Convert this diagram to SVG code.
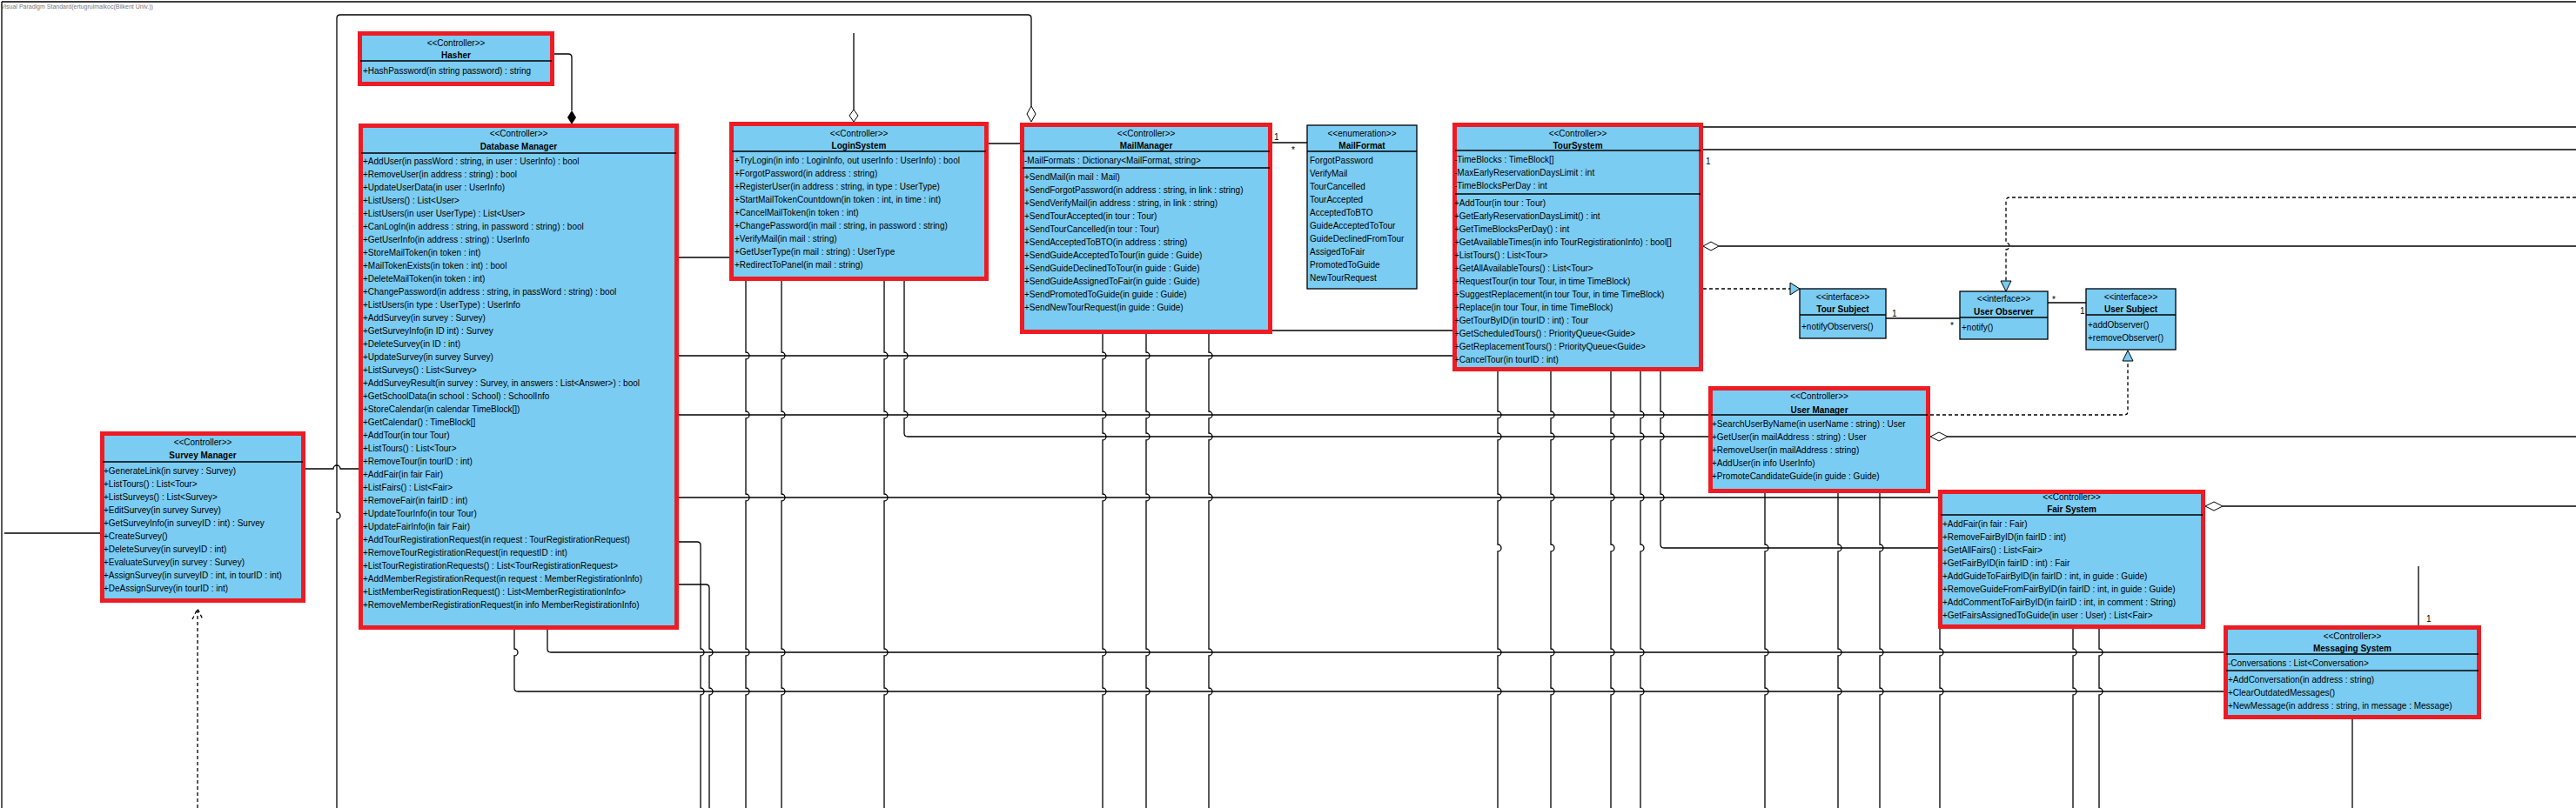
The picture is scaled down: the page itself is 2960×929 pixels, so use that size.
<svg xmlns="http://www.w3.org/2000/svg" width="2960" height="929" viewBox="0 0 2960 929">
<style>
.bx{fill:#7ACCF2;stroke:#ED1C24;stroke-width:5}
.pl{fill:#7ACCF2;stroke:#000;stroke-width:1.3}
.sp{stroke:#000;stroke-width:1.3}
.t{font-family:"Liberation Sans",Arial,sans-serif;font-size:10px;fill:#000}
.c{text-anchor:middle}
.b{font-weight:bold}
.ln{fill:none;stroke:#000;stroke-width:1.3}
.ds{stroke-dasharray:4 3}
.wm{font-family:"Liberation Sans",Arial,sans-serif;font-size:7px;fill:#777}
</style>
<rect x="0" y="0" width="2960" height="929" fill="#fff"/>
<text class="wm" x="1" y="9.5">Visual Paradigm Standard(ertugrulmalkoc(Bilkent Univ.))</text>
<g id="connectors">
<path class="ln" d="M2,2 H2960 M2,2 V929"/>
<path class="ln" d="M637,62 H653 Q657,62 657,66 V127"/>
<path d="M657,127 L662,135 L657,143 L652,135 Z" fill="#000"/>
<path class="ln" d="M780,296 H838"/>
<path class="ln" d="M1136,165 H1172"/>
<path class="ln" d="M1462,164 H1502"/>
<text class="t" x="1464" y="161">1</text>
<text class="t" x="1484" y="176">*</text>
<path class="ln ds" d="M1957,332 H2057"/>
<path d="M2057,325 L2068,332 L2057,339 Z" fill="#7ACCF2" stroke="#000"/>
<path class="ln" d="M2167,366 H2252"/>
<text class="t" x="2174" y="364">1</text>
<text class="t" x="2241" y="378">*</text>
<path class="ln" d="M2353,348 H2397"/>
<text class="t" x="2358" y="348">*</text>
<text class="t" x="2390" y="361">1</text>
<path class="ln ds" d="M2960,227 H2309 Q2305,227 2305,231 V279 a4,4 0 0 1 0,8 V323"/>
<path d="M2299,323 L2305,335 L2311,323 Z" fill="#7ACCF2" stroke="#000"/>
<path class="ln ds" d="M2218,477 H2441 Q2445,477 2445,473 V415"/>
<path d="M2439,415 L2445,403 L2451,415 Z" fill="#7ACCF2" stroke="#000"/>
<path class="ln" d="M1975,283 H2960"/>
<path d="M1957,283 L1966,278 L1975,283 L1966,288 Z" fill="#fff" stroke="#000"/>
<path class="ln" d="M2238,502 H2960"/>
<path d="M2218,502 L2228,497 L2238,502 L2228,507 Z" fill="#fff" stroke="#000"/>
<path class="ln" d="M2554,582 H2960"/>
<path d="M2534,582 L2544,577 L2554,582 L2544,587 Z" fill="#fff" stroke="#000"/>
<path class="ln" d="M1957,146 H2960 M1957,172 H2960"/>
<text class="t" x="1960" y="189">1</text>
<path class="ln" d="M1185,122 V21 Q1185,17 1181,17 H391 Q387,17 387,21 V589 a4,4 0 0 1 0,8 V929"/>
<path d="M1185,122 L1190,131 L1185,140 L1180,131 Z" fill="#fff" stroke="#000"/>
<path class="ln" d="M981,126 V38"/>
<path d="M981,126 L986,133 L981,140 L976,133 Z" fill="#fff" stroke="#000"/>
<path class="ln" d="M351,539 H383 a4,4 0 0 1 8,0 H412"/>
<path class="ln" d="M5,613 H115"/>
<path class="ln ds" d="M227,929 V700 M221,712 L227,700 L233,712"/>
<path class="ln" d="M2779,719 V651"/>
<text class="t" x="2788" y="715">1</text>
<path class="ln" d="M2703,827 V929"/>
<path class="ln" d="M780,409 H1669 M1462,380 H1669 M780,477 H1963 M780,572 H2227"/>
<path class="ln" d="M857,323 V405 a4,4 0 0 1 0,8 V473 a4,4 0 0 1 0,8 V568 a4,4 0 0 1 0,8 V746 a4,4 0 0 1 0,8 V791 a4,4 0 0 1 0,8 V929"/>
<path class="ln" d="M898,323 V405 a4,4 0 0 1 0,8 V473 a4,4 0 0 1 0,8 V568 a4,4 0 0 1 0,8 V746 a4,4 0 0 1 0,8 V791 a4,4 0 0 1 0,8 V929"/>
<path class="ln" d="M1016,323 V405 a4,4 0 0 1 0,8 V473 a4,4 0 0 1 0,8 V568 a4,4 0 0 1 0,8 V746 a4,4 0 0 1 0,8 V791 a4,4 0 0 1 0,8 V929"/>
<path class="ln" d="M1039,323 V405 a4,4 0 0 1 0,8 V473 a4,4 0 0 1 0,8 V498 Q1039,502 1043,502 H1963"/>
<path class="ln" d="M1267,384 V405 a4,4 0 0 1 0,8 V473 a4,4 0 0 1 0,8 V498 a4,4 0 0 1 0,8 V568 a4,4 0 0 1 0,8 V746 a4,4 0 0 1 0,8 V791 a4,4 0 0 1 0,8 V929"/>
<path class="ln" d="M1317,384 V405 a4,4 0 0 1 0,8 V473 a4,4 0 0 1 0,8 V498 a4,4 0 0 1 0,8 V568 a4,4 0 0 1 0,8 V746 a4,4 0 0 1 0,8 V791 a4,4 0 0 1 0,8 V929"/>
<path class="ln" d="M1389,384 V405 a4,4 0 0 1 0,8 V473 a4,4 0 0 1 0,8 V498 a4,4 0 0 1 0,8 V568 a4,4 0 0 1 0,8 V746 a4,4 0 0 1 0,8 V791 a4,4 0 0 1 0,8 V929"/>
<path class="ln" d="M780,623 H801 Q805,623 805,627 V746 a4,4 0 0 1 0,8 V791 a4,4 0 0 1 0,8 V929"/>
<path class="ln" d="M780,672 H811 Q815,672 815,676 V746 a4,4 0 0 1 0,8 V791 a4,4 0 0 1 0,8 V929"/>
<path class="ln" d="M629,724 V746 Q629,750 633,750 H2555"/>
<path class="ln" d="M591,724 V746 a4,4 0 0 1 0,8 V791 Q591,795 595,795 H2555"/>
<path class="ln" d="M1721,427 V473 a4,4 0 0 1 0,8 V498 a4,4 0 0 1 0,8 V568 a4,4 0 0 1 0,8 V626 a4,4 0 0 1 0,8 V746 a4,4 0 0 1 0,8 V791 a4,4 0 0 1 0,8 V929"/>
<path class="ln" d="M1782,427 V473 a4,4 0 0 1 0,8 V498 a4,4 0 0 1 0,8 V568 a4,4 0 0 1 0,8 V626 a4,4 0 0 1 0,8 V746 a4,4 0 0 1 0,8 V791 a4,4 0 0 1 0,8 V929"/>
<path class="ln" d="M1851,427 V473 a4,4 0 0 1 0,8 V498 a4,4 0 0 1 0,8 V568 a4,4 0 0 1 0,8 V626 a4,4 0 0 1 0,8 V746 a4,4 0 0 1 0,8 V791 a4,4 0 0 1 0,8 V929"/>
<path class="ln" d="M1885,427 V473 a4,4 0 0 1 0,8 V498 a4,4 0 0 1 0,8 V568 a4,4 0 0 1 0,8 V626 a4,4 0 0 1 0,8 V746 a4,4 0 0 1 0,8 V791 a4,4 0 0 1 0,8 V929"/>
<path class="ln" d="M1908,427 V473 a4,4 0 0 1 0,8 V498 a4,4 0 0 1 0,8 V568 a4,4 0 0 1 0,8 V626 Q1908,630 1912,630 H2227"/>
<path class="ln" d="M2028,567 V626 a4,4 0 0 1 0,8 V746 a4,4 0 0 1 0,8 V791 a4,4 0 0 1 0,8 V929"/>
<path class="ln" d="M2112,567 V626 a4,4 0 0 1 0,8 V746 a4,4 0 0 1 0,8 V791 a4,4 0 0 1 0,8 V929"/>
<path class="ln" d="M2160,567 V626 a4,4 0 0 1 0,8 V746 a4,4 0 0 1 0,8 V791 a4,4 0 0 1 0,8 V929"/>
<path class="ln" d="M2229,723 V746 a4,4 0 0 1 0,8 V791 a4,4 0 0 1 0,8 V929"/>
<path class="ln" d="M2382,723 V746 a4,4 0 0 1 0,8 V791 a4,4 0 0 1 0,8 V929"/>
<path class="ln" d="M2412,723 V746 a4,4 0 0 1 0,8 V791 a4,4 0 0 1 0,8 V929"/>
</g>
<g id="hasher">
<rect class="bx" x="413.5" y="38.5" width="221" height="58"/>
<text class="t c" x="524" y="52.5">&lt;&lt;Controller&gt;&gt;</text>
<text class="t c b" x="524" y="66.5">Hasher</text>
<line class="sp" x1="414" y1="70" x2="634" y2="70"/>
<text class="t" x="417" y="84.5">+HashPassword(in string password) : string</text>
</g>
<g id="database-manager">
<rect class="bx" x="414.5" y="144.5" width="363" height="577"/>
<text class="t c" x="596" y="156.5">&lt;&lt;Controller&gt;&gt;</text>
<text class="t c b" x="596" y="171.5">Database Manager</text>
<line class="sp" x1="415" y1="176" x2="777" y2="176"/>
<text class="t" x="417" y="188.5">+AddUser(in passWord : string, in user : UserInfo) : bool</text>
<text class="t" x="417" y="203.5">+RemoveUser(in address : string) : bool</text>
<text class="t" x="417" y="218.5">+UpdateUserData(in user : UserInfo)</text>
<text class="t" x="417" y="233.5">+ListUsers() : List&lt;User&gt;</text>
<text class="t" x="417" y="248.5">+ListUsers(in user UserType) : List&lt;User&gt;</text>
<text class="t" x="417" y="263.5">+CanLogIn(in address : string, in password : string) : bool</text>
<text class="t" x="417" y="278.5">+GetUserInfo(in address : string) : UserInfo</text>
<text class="t" x="417" y="293.5">+StoreMailToken(in token : int)</text>
<text class="t" x="417" y="308.5">+MailTokenExists(in token : int) : bool</text>
<text class="t" x="417" y="323.5">+DeleteMailToken(in token : int)</text>
<text class="t" x="417" y="338.5">+ChangePassword(in address : string, in passWord : string) : bool</text>
<text class="t" x="417" y="353.5">+ListUsers(in type : UserType) : UserInfo</text>
<text class="t" x="417" y="368.5">+AddSurvey(in survey : Survey)</text>
<text class="t" x="417" y="383.5">+GetSurveyInfo(in ID int) : Survey</text>
<text class="t" x="417" y="398.5">+DeleteSurvey(in ID : int)</text>
<text class="t" x="417" y="413.5">+UpdateSurvey(in survey Survey)</text>
<text class="t" x="417" y="428.5">+ListSurveys() : List&lt;Survey&gt;</text>
<text class="t" x="417" y="443.5">+AddSurveyResult(in survey : Survey, in answers : List&lt;Answer&gt;) : bool</text>
<text class="t" x="417" y="458.5">+GetSchoolData(in school : School) : SchoolInfo</text>
<text class="t" x="417" y="473.5">+StoreCalendar(in calendar TimeBlock[])</text>
<text class="t" x="417" y="488.5">+GetCalendar() : TimeBlock[]</text>
<text class="t" x="417" y="503.5">+AddTour(in tour Tour)</text>
<text class="t" x="417" y="518.5">+ListTours() : List&lt;Tour&gt;</text>
<text class="t" x="417" y="533.5">+RemoveTour(in tourID : int)</text>
<text class="t" x="417" y="548.5">+AddFair(in fair Fair)</text>
<text class="t" x="417" y="563.5">+ListFairs() : List&lt;Fair&gt;</text>
<text class="t" x="417" y="578.5">+RemoveFair(in fairID : int)</text>
<text class="t" x="417" y="593.5">+UpdateTourInfo(in tour Tour)</text>
<text class="t" x="417" y="608.5">+UpdateFairInfo(in fair Fair)</text>
<text class="t" x="417" y="623.5">+AddTourRegistirationRequest(in request : TourRegistirationRequest)</text>
<text class="t" x="417" y="638.5">+RemoveTourRegistirationRequest(in requestID : int)</text>
<text class="t" x="417" y="653.5">+ListTourRegistirationRequests() : List&lt;TourRegistirationRequest&gt;</text>
<text class="t" x="417" y="668.5">+AddMemberRegistirationRequest(in request : MemberRegistirationInfo)</text>
<text class="t" x="417" y="683.5">+ListMemberRegistirationRequest() : List&lt;MemberRegistirationInfo&gt;</text>
<text class="t" x="417" y="698.5">+RemoveMemberRegistirationRequest(in info MemberRegistirationInfo)</text>
</g>
<g id="login-system">
<rect class="bx" x="840.5" y="142.5" width="293" height="178"/>
<text class="t c" x="987" y="156.5">&lt;&lt;Controller&gt;&gt;</text>
<text class="t c b" x="987" y="170.5">LoginSystem</text>
<line class="sp" x1="841" y1="174" x2="1133" y2="174"/>
<text class="t" x="844" y="187.5">+TryLogin(in info : LoginInfo, out userInfo : UserInfo) : bool</text>
<text class="t" x="844" y="202.5">+ForgotPassword(in address : string)</text>
<text class="t" x="844" y="217.5">+RegisterUser(in address : string, in type : UserType)</text>
<text class="t" x="844" y="232.5">+StartMailTokenCountdown(in token : int, in time : int)</text>
<text class="t" x="844" y="247.5">+CancelMailToken(in token : int)</text>
<text class="t" x="844" y="262.5">+ChangePassword(in mail : string, in password : string)</text>
<text class="t" x="844" y="277.5">+VerifyMail(in mail : string)</text>
<text class="t" x="844" y="292.5">+GetUserType(in mail : string) : UserType</text>
<text class="t" x="844" y="307.5">+RedirectToPanel(in mail : string)</text>
</g>
<g id="mail-manager">
<rect class="bx" x="1174.5" y="143.5" width="285" height="238"/>
<text class="t c" x="1317" y="156.5">&lt;&lt;Controller&gt;&gt;</text>
<text class="t c b" x="1317" y="170.5">MailManager</text>
<line class="sp" x1="1175" y1="174" x2="1459" y2="174"/>
<text class="t" x="1177" y="187.5">-MailFormats : Dictionary&lt;MailFormat, string&gt;</text>
<line class="sp" x1="1175" y1="193" x2="1459" y2="193"/>
<text class="t" x="1177" y="206.5">+SendMail(in mail : Mail)</text>
<text class="t" x="1177" y="221.5">+SendForgotPassword(in address : string, in link : string)</text>
<text class="t" x="1177" y="236.5">+SendVerifyMail(in address : string, in link : string)</text>
<text class="t" x="1177" y="251.5">+SendTourAccepted(in tour : Tour)</text>
<text class="t" x="1177" y="266.5">+SendTourCancelled(in tour : Tour)</text>
<text class="t" x="1177" y="281.5">+SendAcceptedToBTO(in address : string)</text>
<text class="t" x="1177" y="296.5">+SendGuideAcceptedToTour(in guide : Guide)</text>
<text class="t" x="1177" y="311.5">+SendGuideDeclinedToTour(in guide : Guide)</text>
<text class="t" x="1177" y="326.5">+SendGuideAssignedToFair(in guide : Guide)</text>
<text class="t" x="1177" y="341.5">+SendPromotedToGuide(in guide : Guide)</text>
<text class="t" x="1177" y="356.5">+SendNewTourRequest(in guide : Guide)</text>
</g>
<g id="mail-format">
<rect class="pl" x="1502" y="144" width="126" height="188"/>
<text class="t c" x="1565" y="156.5">&lt;&lt;enumeration&gt;&gt;</text>
<text class="t c b" x="1565" y="170.5">MailFormat</text>
<line class="sp" x1="1502" y1="174" x2="1628" y2="174"/>
<text class="t" x="1505" y="187.5">ForgotPassword</text>
<text class="t" x="1505" y="202.5">VerifyMail</text>
<text class="t" x="1505" y="217.5">TourCancelled</text>
<text class="t" x="1505" y="232.5">TourAccepted</text>
<text class="t" x="1505" y="247.5">AcceptedToBTO</text>
<text class="t" x="1505" y="262.5">GuideAcceptedToTour</text>
<text class="t" x="1505" y="277.5">GuideDeclinedFromTour</text>
<text class="t" x="1505" y="292.5">AssigedToFair</text>
<text class="t" x="1505" y="307.5">PromotedToGuide</text>
<text class="t" x="1505" y="322.5">NewTourRequest</text>
</g>
<g id="tour-system">
<rect class="bx" x="1671.5" y="143.5" width="283" height="281"/>
<text class="t c" x="1813" y="156.5">&lt;&lt;Controller&gt;&gt;</text>
<text class="t c b" x="1813" y="170.5">TourSystem</text>
<line class="sp" x1="1672" y1="173" x2="1954" y2="173"/>
<text class="t" x="1671" y="187">-TimeBlocks : TimeBlock[]</text>
<text class="t" x="1671" y="202">-MaxEarlyReservationDaysLimit : int</text>
<text class="t" x="1671" y="217">-TimeBlocksPerDay : int</text>
<line class="sp" x1="1672" y1="223" x2="1954" y2="223"/>
<text class="t" x="1671" y="236.5">+AddTour(in tour : Tour)</text>
<text class="t" x="1671" y="251.5">+GetEarlyReservationDaysLimit() : int</text>
<text class="t" x="1671" y="266.5">+GetTimeBlocksPerDay() : int</text>
<text class="t" x="1671" y="281.5">+GetAvailableTimes(in info TourRegistirationInfo) : bool[]</text>
<text class="t" x="1671" y="296.5">+ListTours() : List&lt;Tour&gt;</text>
<text class="t" x="1671" y="311.5">+GetAllAvailableTours() : List&lt;Tour&gt;</text>
<text class="t" x="1671" y="326.5">+RequestTour(in tour Tour, in time TimeBlock)</text>
<text class="t" x="1671" y="341.5">+SuggestReplacement(in tour Tour, in time TimeBlock)</text>
<text class="t" x="1671" y="356.5">+Replace(in tour Tour, in time TimeBlock)</text>
<text class="t" x="1671" y="371.5">+GetTourByID(in tourID : int) : Tour</text>
<text class="t" x="1671" y="386.5">+GetScheduledTours() : PriorityQueue&lt;Guide&gt;</text>
<text class="t" x="1671" y="401.5">+GetReplacementTours() : PriorityQueue&lt;Guide&gt;</text>
<text class="t" x="1671" y="416.5">+CancelTour(in tourID : int)</text>
</g>
<g id="tour-subject">
<rect class="pl" x="2068" y="332" width="99" height="57"/>
<text class="t c" x="2117.5" y="344.5">&lt;&lt;interface&gt;&gt;</text>
<text class="t c b" x="2117.5" y="358.5">Tour Subject</text>
<line class="sp" x1="2068" y1="362" x2="2167" y2="362"/>
<text class="t" x="2070" y="379">+notifyObservers()</text>
</g>
<g id="user-observer">
<rect class="pl" x="2252" y="335" width="101" height="55"/>
<text class="t c" x="2302.5" y="346.5">&lt;&lt;interface&gt;&gt;</text>
<text class="t c b" x="2302.5" y="361.5">User Observer</text>
<line class="sp" x1="2252" y1="365" x2="2353" y2="365"/>
<text class="t" x="2254" y="379.5">+notify()</text>
</g>
<g id="user-subject">
<rect class="pl" x="2397" y="332" width="103" height="70"/>
<text class="t c" x="2448.5" y="344.5">&lt;&lt;interface&gt;&gt;</text>
<text class="t c b" x="2448.5" y="358.5">User Subject</text>
<line class="sp" x1="2397" y1="362" x2="2500" y2="362"/>
<text class="t" x="2399" y="376.5">+addObserver()</text>
<text class="t" x="2399" y="391.5">+removeObserver()</text>
</g>
<g id="user-manager">
<rect class="bx" x="1965.5" y="446.5" width="250" height="118"/>
<text class="t c" x="2090.5" y="458.5">&lt;&lt;Controller&gt;&gt;</text>
<text class="t c b" x="2090.5" y="474.5">User Manager</text>
<line class="sp" x1="1966" y1="477" x2="2215" y2="477"/>
<text class="t" x="1967" y="490.5">+SearchUserByName(in userName : string) : User</text>
<text class="t" x="1967" y="505.5">+GetUser(in mailAddress : string) : User</text>
<text class="t" x="1967" y="520.5">+RemoveUser(in mailAddress : string)</text>
<text class="t" x="1967" y="535.5">+AddUser(in info UserInfo)</text>
<text class="t" x="1967" y="550.5">+PromoteCandidateGuide(in guide : Guide)</text>
</g>
<g id="fair-system">
<rect class="bx" x="2229.5" y="565.5" width="302" height="155"/>
<text class="t c" x="2380.5" y="574.5">&lt;&lt;Controller&gt;&gt;</text>
<text class="t c b" x="2380.5" y="588.5">Fair System</text>
<line class="sp" x1="2230" y1="592" x2="2531" y2="592"/>
<text class="t" x="2232" y="605.5">+AddFair(in fair : Fair)</text>
<text class="t" x="2232" y="620.5">+RemoveFairByID(in fairID : int)</text>
<text class="t" x="2232" y="635.5">+GetAllFairs() : List&lt;Fair&gt;</text>
<text class="t" x="2232" y="650.5">+GetFairByID(in fairID : int) : Fair</text>
<text class="t" x="2232" y="665.5">+AddGuideToFairByID(in fairID : int, in guide : Guide)</text>
<text class="t" x="2232" y="680.5">+RemoveGuideFromFairByID(in fairID : int, in guide : Guide)</text>
<text class="t" x="2232" y="695.5">+AddCommentToFairByID(in fairID : int, in comment : String)</text>
<text class="t" x="2232" y="710.5">+GetFairsAssignedToGuide(in user : User) : List&lt;Fair&gt;</text>
</g>
<g id="messaging-system">
<rect class="bx" x="2557.5" y="721.5" width="291" height="103"/>
<text class="t c" x="2703" y="734.5">&lt;&lt;Controller&gt;&gt;</text>
<text class="t c b" x="2703" y="748.5">Messaging System</text>
<line class="sp" x1="2558" y1="752" x2="2848" y2="752"/>
<text class="t" x="2560" y="765.5">-Conversations : List&lt;Conversation&gt;</text>
<line class="sp" x1="2558" y1="771" x2="2848" y2="771"/>
<text class="t" x="2560" y="784.5">+AddConversation(in address : string)</text>
<text class="t" x="2560" y="799.5">+ClearOutdatedMessages()</text>
<text class="t" x="2560" y="814.5">+NewMessage(in address : string, in message : Message)</text>
</g>
<g id="survey-manager">
<rect class="bx" x="117.5" y="498.5" width="231" height="192"/>
<text class="t c" x="233" y="511.5">&lt;&lt;Controller&gt;&gt;</text>
<text class="t c b" x="233" y="526.5">Survey Manager</text>
<line class="sp" x1="118" y1="531" x2="348" y2="531"/>
<text class="t" x="119" y="544.5">+GenerateLink(in survey : Survey)</text>
<text class="t" x="119" y="559.5">+ListTours() : List&lt;Tour&gt;</text>
<text class="t" x="119" y="574.5">+ListSurveys() : List&lt;Survey&gt;</text>
<text class="t" x="119" y="589.5">+EditSurvey(in survey Survey)</text>
<text class="t" x="119" y="604.5">+GetSurveyInfo(in surveyID : int) : Survey</text>
<text class="t" x="119" y="619.5">+CreateSurvey()</text>
<text class="t" x="119" y="634.5">+DeleteSurvey(in surveyID : int)</text>
<text class="t" x="119" y="649.5">+EvaluateSurvey(in survey : Survey)</text>
<text class="t" x="119" y="664.5">+AssignSurvey(in surveyID : int, in tourID : int)</text>
<text class="t" x="119" y="679.5">+DeAssignSurvey(in tourID : int)</text>
</g>
</svg>
